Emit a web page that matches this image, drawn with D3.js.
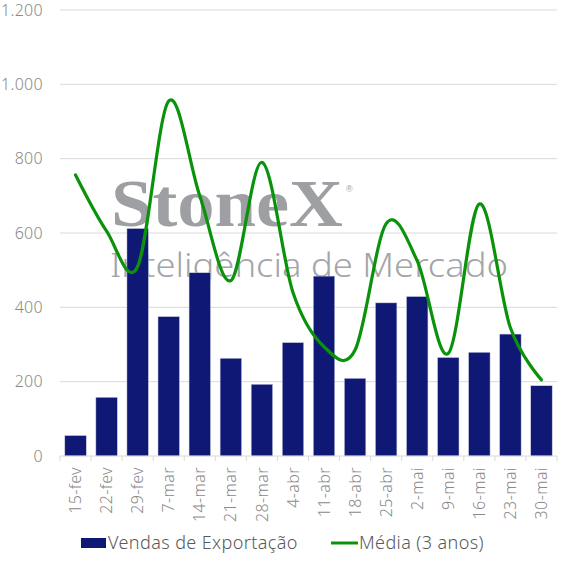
<!DOCTYPE html>
<html>
<head>
<meta charset="utf-8">
<script src="https://cdn.jsdelivr.net/npm/d3@7"></script>
<style>
  body { margin: 0; background: #fff; }
  svg { display: block; }
</style>
</head>
<body>
<div id="chart"></div>
<script>
categories = ["15-fev","22-fev","29-fev","7-mar","14-mar","21-mar","28-mar","4-abr",
              "11-abr","18-abr","25-abr","2-mai","9-mai","16-mai","23-mai","30-mai"]
vendas = [55, 158, 612, 375, 493, 263, 193, 305, 484, 209, 412, 429, 265, 279, 328, 189]
media = [756, 605, 510, 955, 700, 472, 790, 440, 294, 285, 625, 525, 276, 678, 345, 205]
yTicks = [0, 200, 400, 600, 800, 1000, 1200]
seriesNames = ["Vendas de Exportação", "Média (3 anos)"]

width = 567
height = 567
margin = ({top: 10, right: 10, bottom: 111, left: 60})
barColor = "#0f1875"
lineColor = "#0b920b"
textColor = "#8a8a8a"
font = "'Noto Sans', sans-serif"

const svg = d3.select("#chart").append("svg")
  .attr("width", width)
  .attr("height", height)

x = d3.scaleBand()
  .domain(categories)
  .range([margin.left, width - margin.right])
  .paddingInner(0.31)
  .paddingOuter(0.155)

y = d3.scaleLinear()
  .domain([0, 1200])
  .range([height - margin.bottom, margin.top])

// stretch a text element horizontally so it spans the wanted width
function fitWidth(sel, x0, w) {
  const node = sel.node()
  const nat = node.getComputedTextLength()
  sel.attr("x", 0)
    .attr("transform", `translate(${x0},${sel.attr("y")}) scale(${w / nat},1)`)
    .attr("y", 0)
}

// grid
svg.append("g")
  .selectAll("line")
  .data(yTicks.filter(d => d > 0))
  .enter().append("line")
  .attr("x1", margin.left)
  .attr("x2", width - margin.right)
  .attr("y1", d => y(d))
  .attr("y2", d => y(d))
  .attr("stroke", "#d9d9d9")
  .attr("stroke-width", 1)

// y labels
svg.append("g")
  .selectAll("text")
  .data(yTicks)
  .enter().append("text")
  .attr("x", 43)
  .attr("y", d => y(d))
  .attr("dy", "0.35em")
  .attr("text-anchor", "end")
  .style("font", `300 16px ${font}`)
  .style("letter-spacing", "0.3px")
  .attr("fill", textColor)
  .text(d => d3.format(",")(d).replace(/,/g, "."))

// watermark
const wm = svg.append("g").attr("fill", "#9d9fa3")
const stonex = wm.append("text")
  .attr("y", 226)
  .style("font", "bold 68px 'Liberation Serif', 'DejaVu Serif', serif")
  .text("StoneX")
fitWidth(stonex, 111, 232)
wm.append("text")
  .attr("x", 346)
  .attr("y", 192)
  .style("font", "9px 'Liberation Sans', sans-serif")
  .text("®")
const intel = wm.append("text")
  .attr("y", 277)
  .attr("fill", "#a3a5a9")
  .style("font", "300 33px 'Noto Sans', sans-serif")
  .text("Inteligência de Mercado")
fitWidth(intel, 110, 398)

// bars
svg.append("g")
  .selectAll("rect")
  .data(vendas)
  .enter().append("rect")
  .attr("x", (d, i) => x(categories[i]))
  .attr("y", d => y(d))
  .attr("width", x.bandwidth())
  .attr("height", d => y(0) - y(d))
  .attr("fill", barColor)
  .attr("stroke", "#c8cbe0")
  .attr("stroke-width", 0.5)

// x axis
const step = x.step()
const xAxis = svg.append("g")
  .attr("transform", `translate(0,${y(0)})`)
xAxis.append("line")
  .attr("x1", margin.left)
  .attr("x2", width - margin.right)
  .attr("stroke", "#d9d9d9")
xAxis.selectAll(".tick")
  .data(d3.range(categories.length + 1))
  .enter().append("line")
  .attr("x1", i => margin.left + i * step)
  .attr("x2", i => margin.left + i * step)
  .attr("y1", 0)
  .attr("y2", 5)
  .attr("stroke", "#d9d9d9")
xAxis.selectAll("text")
  .data(categories)
  .enter().append("text")
  .attr("transform", d => `translate(${x(d) + x.bandwidth() / 2},11) rotate(-90)`)
  .attr("text-anchor", "end")
  .attr("dy", "0.35em")
  .style("font", `300 16px ${font}`)
  .style("letter-spacing", "0.4px")
  .attr("fill", textColor)
  .text(d => d)

// line
const line = d3.line()
  .x((d, i) => x(categories[i]) + x.bandwidth() / 2)
  .y(d => y(d))
  .curve(d3.curveCatmullRom.alpha(0))

svg.append("path")
  .datum(media)
  .attr("fill", "none")
  .attr("stroke", lineColor)
  .attr("stroke-width", 3.2)
  .attr("stroke-linecap", "round")
  .attr("d", line)

// legend
const lg = svg.append("g")
lg.append("rect")
  .attr("x", 81).attr("y", 538)
  .attr("width", 25).attr("height", 10)
  .attr("fill", barColor)
lg.append("text")
  .attr("x", 108).attr("y", 543)
  .attr("dy", "0.35em")
  .style("font", `300 18px ${font}`)
  .style("letter-spacing", "0.4px")
  .attr("fill", "#595959")
  .text(seriesNames[0])
lg.append("line")
  .attr("x1", 331).attr("x2", 358)
  .attr("y1", 543).attr("y2", 543)
  .attr("stroke", lineColor)
  .attr("stroke-width", 3)
lg.append("text")
  .attr("x", 359).attr("y", 543)
  .attr("dy", "0.35em")
  .style("font", `300 18px ${font}`)
  .style("letter-spacing", "0.4px")
  .attr("fill", "#595959")
  .text(seriesNames[1])
</script>
</body>
</html>
